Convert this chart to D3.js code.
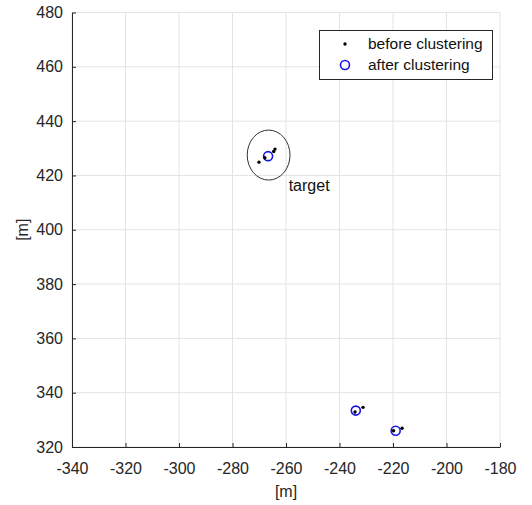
<!DOCTYPE html>
<html>
<head>
<meta charset="utf-8">
<script src="https://cdn.jsdelivr.net/npm/d3@7"></script>
<style>
  body { margin: 0; background: #fff; }
  svg { display: block; font-family: Arial, "Liberation Sans", sans-serif; }
</style>
</head>
<body>
<svg class="chart"></svg>
<script>
// points (metres)
const beforeX = [-270.1, -264.1, -264.6, -267.9, -231.2, -234.2, -216.6, -219.8];
const beforeY = [424.9, 429.7, 428.8, 426.5, 334.6, 332.9, 326.9, 326.0];
const afterX = [-266.7, -233.9, -219.0];
const afterY = [427.1, 333.4, 326.0];
const xTicks = [-340, -320, -300, -280, -260, -240, -220, -200, -180];
const yTicks = [320, 340, 360, 380, 400, 420, 440, 460, 480];
const legendVals = ['before clustering', 'after clustering'];
// target ellipse: centre x, centre y, radius x, radius y
const target = {cx: -266.5, cy: 427.5, rx: 8.0, ry: 9.2, label: 'target', lx: -259, ly: 414.2};

const svgWidth = 532;
const svgHeight = 505;
const padding = {top: 12.5, left: 72, right: 32, bottom: 58};
const blue = '#1414e6';

const svg = d3.select('.chart')
    .attr('width', svgWidth)
    .attr('height', svgHeight);

const x = d3.scaleLinear()
    .domain([-340, -180])
    .range([padding.left, svgWidth - padding.right]);

const y = d3.scaleLinear()
    .domain([320, 480])
    .range([svgHeight - padding.bottom, padding.top]);

// grid
svg.append('g')
    .selectAll('line')
    .data(xTicks)
    .join('line')
    .attr('x1', d => x(d)).attr('x2', d => x(d))
    .attr('y1', y(320)).attr('y2', y(480))
    .attr('stroke', '#e3e3e3');

svg.append('g')
    .selectAll('line')
    .data(yTicks)
    .join('line')
    .attr('x1', x(-340)).attr('x2', x(-180))
    .attr('y1', d => y(d)).attr('y2', d => y(d))
    .attr('stroke', '#e3e3e3');

// axes, ticks pointing inwards
const xAxis = svg.append('g')
    .attr('transform', `translate(0, ${y(320)})`)
    .call(d3.axisBottom(x).tickValues(xTicks).tickSizeInner(-4).tickSizeOuter(0).tickPadding(16)
        .tickFormat(d3.format('d')));

const yAxis = svg.append('g')
    .attr('transform', `translate(${x(-340)}, 0)`)
    .call(d3.axisLeft(y).tickValues(yTicks).tickSizeInner(-4).tickSizeOuter(0).tickPadding(9));

[xAxis, yAxis].forEach(a => {
    a.select('.domain').attr('stroke', '#262626');
    a.selectAll('.tick line').attr('stroke', '#262626');
    a.selectAll('text')
        .attr('fill', '#262626')
        .style('font-size', '16px')
        .style('font-family', 'Arial, "Liberation Sans", sans-serif');
});
// d3 uses unicode minus, the picture uses a hyphen
xAxis.selectAll('text').text(d => String(d));

// axis labels
svg.append('text')
    .attr('x', x(-260))
    .attr('y', 497)
    .attr('text-anchor', 'middle')
    .style('font-size', '16px')
    .attr('fill', '#262626')
    .text('[m]');

svg.append('text')
    .attr('text-anchor', 'middle')
    .style('font-size', '16px')
    .attr('fill', '#262626')
    .attr('transform', `translate(28 ${y(400)}) rotate(-90)`)
    .text('[m]');

// target ellipse and label
svg.append('ellipse')
    .attr('cx', x(target.cx))
    .attr('cy', y(target.cy))
    .attr('rx', x(target.cx + target.rx) - x(target.cx))
    .attr('ry', y(target.cy) - y(target.cy + target.ry))
    .attr('fill', 'none')
    .attr('stroke', '#333')
    .attr('stroke-width', 1);

svg.append('text')
    .attr('x', x(target.lx))
    .attr('y', y(target.ly))
    .style('font-size', '16px')
    .attr('fill', '#111')
    .text(target.label);

// after clustering (blue circles)
svg.append('g')
    .selectAll('circle')
    .data(afterX.map((v, i) => [v, afterY[i]]))
    .join('circle')
    .attr('cx', d => x(d[0]))
    .attr('cy', d => y(d[1]))
    .attr('r', 4.5)
    .attr('fill', 'none')
    .attr('stroke', blue)
    .attr('stroke-width', 1.6);

// before clustering (black dots)
svg.append('g')
    .selectAll('circle')
    .data(beforeX.map((v, i) => [v, beforeY[i]]))
    .join('circle')
    .attr('cx', d => x(d[0]))
    .attr('cy', d => y(d[1]))
    .attr('r', 1.7)
    .attr('fill', '#000');

// legend
const legend = svg.append('g').attr('class', 'legend');
legend.append('rect')
    .attr('x', 319.5).attr('y', 30.5)
    .attr('width', 173).attr('height', 49)
    .attr('fill', '#fff')
    .attr('stroke', '#262626')
    .attr('stroke-width', 1);
legend.append('circle')
    .attr('cx', 345).attr('cy', 44)
    .attr('r', 1.7)
    .attr('fill', '#000');
legend.append('circle')
    .attr('cx', 345).attr('cy', 65)
    .attr('r', 4.5)
    .attr('fill', 'none')
    .attr('stroke', blue)
    .attr('stroke-width', 1.6);
legend.selectAll('text.lg')
    .data(legendVals)
    .join('text')
    .attr('class', 'lg')
    .attr('x', 368)
    .attr('y', (d, i) => 49 + i * 21)
    .style('font-size', '15.5px')
    .attr('fill', '#111')
    .text(d => d);
</script>
</body>
</html>
